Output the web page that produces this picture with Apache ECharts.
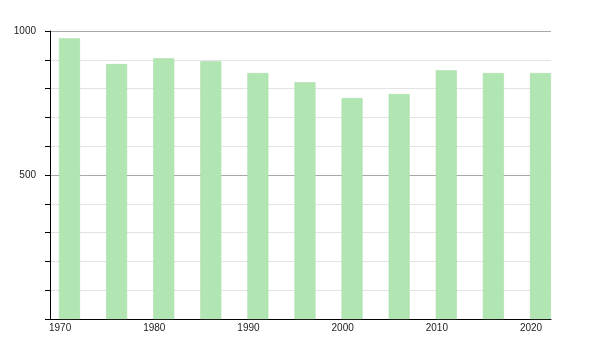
<!DOCTYPE html>
<html><head><meta charset="utf-8">
<script src="https://cdn.jsdelivr.net/npm/echarts@6/dist/echarts.min.js"></script>
<style>html,body{margin:0;padding:0;background:#fff}#c{width:600px;height:350px}</style>
</head><body><div id="c"></div>
<script>
const years = [1971, 1976, 1981, 1986, 1991, 1996, 2001, 2006, 2011, 2016, 2021];
const values = [975, 885, 905, 895, 854, 822, 767, 781, 864, 854, 854];
const xTickLabels = [1970, 1980, 1990, 2000, 2010, 2020];
const yTickLabels = [500, 1000];

const chart = echarts.init(document.getElementById('c'), null, {renderer: 'canvas'});
const minor = '#e3e3e3', major = '#a8a8a8';
const gridColors = [];
for (let v = 0; v <= 1000; v += 100) gridColors.push(yTickLabels.includes(v) ? major : minor);
chart.setOption({
  animation: false,
  grid: {left: 50, right: 49, top: 31, bottom: 31},
  xAxis: {
    type: 'value', min: 1968.93, max: 2022.12,
    axisLine: {show: true, lineStyle: {color: '#000', width: 1}},
    axisTick: {show: false},
    splitLine: {show: false},
    axisLabel: {customValues: xTickLabels, formatter: v => String(v), color: '#222', fontSize: 10, fontFamily: 'Liberation Sans, Arial, sans-serif', margin: 4, showMinLabel: true, showMaxLabel: true}
  },
  yAxis: {
    type: 'value', min: 0, max: 1000, interval: 100,
    axisLine: {show: true, lineStyle: {color: '#000', width: 1}},
    axisTick: {show: true, length: 5, lineStyle: {color: '#000'}},
    splitLine: {show: true, lineStyle: {color: gridColors, width: 1}},
    axisLabel: {color: '#222', fontSize: 10, fontFamily: 'Liberation Sans, Arial, sans-serif', margin: 14,
      formatter: v => yTickLabels.includes(v) ? String(v) : ''}
  },
  series: [{
    type: 'bar', barWidth: 21,
    data: years.map((y, i) => [y, values[i]]),
    itemStyle: {color: '#b1e5b1', borderColor: '#a9dda9', borderWidth: 0.5}
  }]
});
</script></body></html>
